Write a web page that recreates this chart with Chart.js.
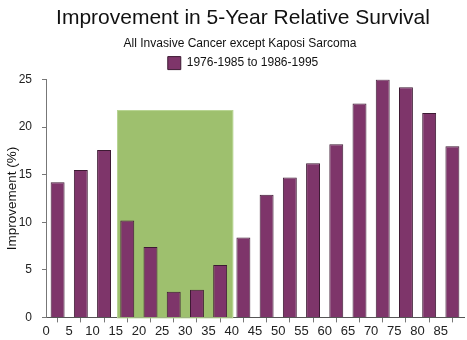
<!DOCTYPE html>
<html>
<head>
<meta charset="utf-8">
<script src="https://cdn.jsdelivr.net/npm/chart.js@4/dist/chart.umd.min.js"></script>
<style>
  html, body { margin: 0; padding: 0; background: #ffffff; }
  #wrap { width: 467px; height: 340px; position: relative; }
</style>
</head>
<body>
<div id="wrap"><canvas id="c" width="467" height="340"></canvas></div>
<script>
// Age groups (start of each 5-year band) and improvement in 5-year relative survival (%)
const ageStarts = [0, 5, 10, 15, 20, 25, 30, 35, 40, 45, 50, 55, 60, 65, 70, 75, 80, 85];
const improvement = [14.2, 15.5, 17.6, 10.2, 7.4, 2.7, 2.9, 5.5, 8.4, 12.9, 14.7, 16.2, 18.2, 22.5, 25.0, 24.2, 21.5, 18.0];
const xTicks = [0, 5, 10, 15, 20, 25, 30, 35, 40, 45, 50, 55, 60, 65, 70, 75, 80, 85];
const yTicks = [0, 5, 10, 15, 20, 25];
// Highlighted age range and its height
const bandRange = [15.3, 40.3];
const bandTop = 21.8;

const TITLE = 'Improvement in 5-Year Relative Survival';
const SUBTITLE = 'All Invasive Cancer except Kaposi Sarcoma';
const FONT = '"Liberation Sans", Arial, sans-serif';

// Shaded band drawn behind the bars
const bandPlugin = {
  id: 'band',
  beforeDatasetsDraw(chart) {
    const { ctx, scales: { x, y } } = chart;
    const x0 = x.getPixelForValue(bandRange[0]);
    const x1 = x.getPixelForValue(bandRange[1]);
    const y0 = y.getPixelForValue(0);
    const y1 = y.getPixelForValue(bandTop);
    ctx.save();
    ctx.fillStyle = '#9ec06e';
    ctx.fillRect(x0, y1, x1 - x0, y0 - y1);
    ctx.strokeStyle = '#b9d595';
    ctx.lineWidth = 1;
    ctx.strokeRect(x0 + 0.5, y1 + 0.5, x1 - x0 - 1, y0 - y1);
    ctx.restore();
  }
};

// Nudge the header blocks sideways so they sit over the plot
const headerShift = {
  id: 'headerShift',
  afterLayout(chart) {
    chart.boxes.forEach(b => {
      let d = 0;
      if (b.options && b.options.text === TITLE) d = 11;
      else if (b.options && b.options.text === SUBTITLE) d = 8;
      else if (b.legendItems) d = 11;
      if (d) { b.left += d; b.right += d; }
    });
  }
};

new Chart(document.getElementById('c'), {
  type: 'bar',
  data: {
    datasets: [{
      label: '1976-1985 to 1986-1995',
      data: ageStarts.map((a, i) => ({ x: a + 2.5, y: improvement[i] })),
      backgroundColor: '#7e356a',
      borderColor: '#3d1a33',
      borderWidth: 1,
      barPercentage: 0.6,
      categoryPercentage: 1.0
    }]
  },
  options: {
    responsive: false,
    animation: false,
    devicePixelRatio: 1,
    layout: { padding: { left: 0, right: 3, top: 0, bottom: 0 } },
    plugins: {
      title: {
        display: true,
        text: TITLE,
        color: '#111',
        font: { family: FONT, size: 21, weight: 'normal' },
        padding: { top: 6, bottom: 3 }
      },
      subtitle: {
        display: true,
        text: SUBTITLE,
        color: '#111',
        font: { family: FONT, size: 12, weight: 'normal' },
        padding: { top: 2, bottom: 2 }
      },
      legend: {
        display: true,
        labels: {
          color: '#111',
          font: { family: FONT, size: 12 },
          boxWidth: 13,
          boxHeight: 13,
          padding: 4,
          useBorderRadius: false
        }
      },
      tooltip: { enabled: false }
    },
    scales: {
      x: {
        type: 'linear',
        min: 0,
        max: 90,
        offset: false,
        afterBuildTicks(scale) {
          scale.ticks = xTicks.map(v => ({ value: v }));
        },
        ticks: {
          color: '#222',
          font: { family: FONT, size: 13 },
          padding: 1,
          maxRotation: 0,
          autoSkip: false
        },
        grid: {
          display: true,
          drawOnChartArea: false,
          drawTicks: true,
          tickLength: 5,
          color: '#777'
        },
        border: { display: true, color: '#555', width: 1 }
      },
      y: {
        min: 0,
        max: 25,
        afterBuildTicks(scale) {
          scale.ticks = yTicks.map(v => ({ value: v }));
        },
        afterFit(scale) { scale.width = 46; },
        title: {
          display: true,
          text: 'Improvement (%)',
          color: '#111',
          font: { family: FONT, size: 13.5 },
          padding: { top: 4, bottom: 0 }
        },
        ticks: {
          color: '#222',
          font: { family: FONT, size: 12 },
          padding: 10
        },
        grid: {
          display: true,
          drawOnChartArea: false,
          drawTicks: true,
          tickLength: 4,
          color: '#777'
        },
        border: { display: true, color: '#777', width: 1 }
      }
    }
  },
  plugins: [bandPlugin, headerShift]
});
</script>
</body>
</html>
